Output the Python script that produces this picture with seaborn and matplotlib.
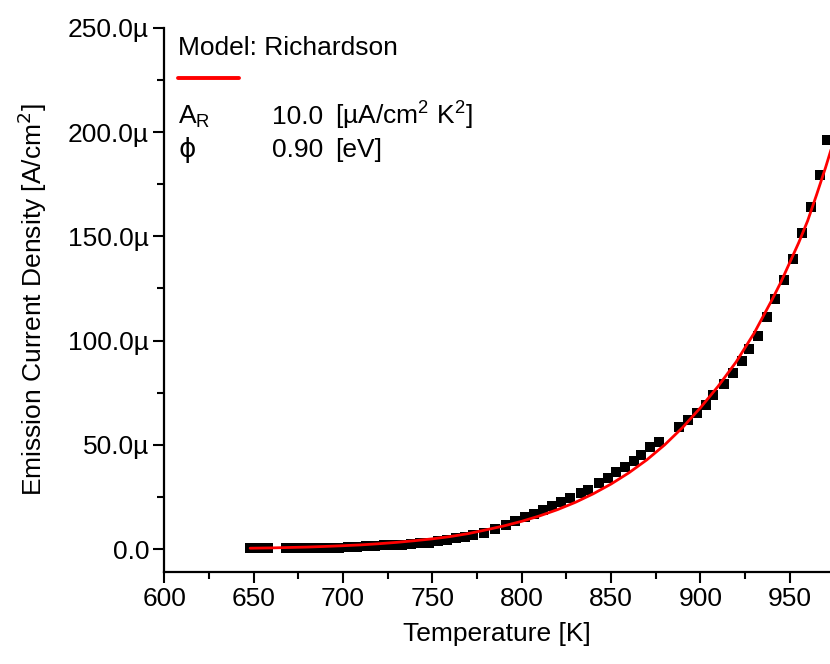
import matplotlib
matplotlib.use("Agg")
import matplotlib.pyplot as plt
import matplotlib.ticker as mticker
import seaborn as sns
import pandas as pd

# Measured data (Temperature [K], current density [µA/cm²])
temp_data = [648, 653, 658, 668, 673, 678, 683, 688, 693, 698, 703, 708, 713,
             718, 723, 728, 733, 738, 743, 748, 753, 758, 763, 768, 773, 779,
             785, 791, 796, 802, 807, 812, 817, 822, 827, 833, 837, 843, 848,
             853, 858, 863, 867, 872, 877, 888, 893, 898, 903, 907, 913, 918,
             923, 927, 932, 937, 942, 947, 952, 957, 962, 967, 971]
j_data = [0.3, 0.3, 0.3, 0.3, 0.3, 0.4, 0.4, 0.5, 0.6, 0.7, 0.9, 1.1, 1.3,
          1.5, 1.7, 1.9, 2.1, 2.4, 2.7, 3.1, 3.7, 4.4, 5.1, 5.9, 6.7, 7.6,
          9.4, 11.6, 13.6, 15.3, 17.0, 18.6, 20.8, 22.6, 24.4, 26.7, 28.5, 31.5, 34.0,
          37.0, 39.5, 42.0, 45.0, 49.0, 51.5, 58.7, 62.0, 65.2, 69.1, 74.0, 79.1, 84.4,
          90.2, 95.9, 102.2, 111.3, 119.9, 129.0, 139.1, 151.6, 164.0, 179.4, 196.2]

# Richardson model curve
temp_fit = [648, 660, 670, 680, 690, 700, 710, 720, 730, 740, 750, 760, 770,
            780, 790, 800, 810, 820, 830, 840, 850, 860, 870, 880, 890, 900,
            910, 920, 930, 940, 945, 950, 955, 960, 965, 970, 975]
j_fit = [0.4, 0.55, 0.75, 0.95, 1.25, 1.6, 2.0, 2.55, 3.2, 4.0, 4.9, 6.0, 7.4,
         9.2, 11.1, 13.3, 15.9, 18.9, 22.4, 26.5, 31.2, 36.6, 42.8, 50.0, 58.3, 67.8,
         78.2, 89.8, 103.5, 119.5, 128.0, 137.5, 147.0, 157.5, 170.0, 183.0, 197.0]

x_ticks = [600, 650, 700, 750, 800, 850, 900, 950]
y_ticks = [0, 50, 100, 150, 200, 250]

df_data = pd.DataFrame({"T": temp_data, "J": j_data})
df_fit = pd.DataFrame({"T": temp_fit, "J": j_fit})

sns.set_theme(style="ticks")
plt.rcParams["font.family"] = ["Liberation Sans", "DejaVu Sans"]
plt.rcParams["text.color"] = "black"
plt.rcParams["axes.labelcolor"] = "black"
FS = 19

fig = plt.figure(figsize=(8.3, 6.64), dpi=100)
ax = fig.add_axes([0.198, 0.1386, 0.802, 0.8193])

sns.scatterplot(data=df_data, x="T", y="J", marker="s", s=48, color="black",
                linewidth=0, ax=ax, zorder=2)
sns.lineplot(data=df_fit, x="T", y="J", color="#ff0000", linewidth=2.0, ax=ax,
             zorder=3)

ax.set_xlim(600, 972.5)
ax.set_ylim(-11, 250)
ax.set_xticks(x_ticks)
ax.set_yticks(y_ticks)
ax.xaxis.set_minor_locator(mticker.MultipleLocator(25))
ax.yaxis.set_minor_locator(mticker.MultipleLocator(25))
ax.yaxis.set_major_formatter(mticker.FuncFormatter(
    lambda v, p: "0.0" if abs(v) < 1e-9 else f"{v:.1f}µ"))

for s in ["top", "right"]:
    ax.spines[s].set_visible(False)
for s in ["left", "bottom"]:
    ax.spines[s].set_linewidth(1.6)
    ax.spines[s].set_color("black")

ax.tick_params(which="major", direction="out", length=8, width=1.5,
               labelsize=FS, colors="black", pad=3)
ax.tick_params(which="minor", direction="out", length=5, width=1.5,
               colors="black")

ax.set_xlabel("Temperature [K]", fontsize=FS, labelpad=8)
ax.set_ylabel("Emission Current Density [A/cm$^2$]", fontsize=FS, labelpad=14)


def fy(px):
    return 1 - px / 664


def fx(px):
    return px / 830


# Annotation block
fig.text(fx(178), fy(55), "Model: Richardson", fontsize=FS,
         va="baseline", ha="left")
fig.add_artist(plt.Line2D([fx(178), fx(239)], [fy(77.5), fy(77.5)],
                          color="#ff0000", linewidth=2.8,
                          transform=fig.transFigure))
fig.text(fx(178), fy(124), "A$_\\mathregular{R}$", fontsize=FS,
         va="baseline", ha="left")
fig.text(fx(272), fy(124), "10.0", fontsize=FS, va="baseline", ha="left")
fig.text(fx(335), fy(124), "[µA/cm$^\\mathregular{2}$ K$^\\mathregular{2}$]",
         fontsize=FS, va="baseline", ha="left")
fig.text(fx(178), fy(157), "ϕ", fontsize=FS, va="baseline", ha="left",
         family=["DejaVu Sans"])
fig.text(fx(272), fy(157), "0.90", fontsize=FS, va="baseline", ha="left")
fig.text(fx(335), fy(157), "[eV]", fontsize=FS, va="baseline", ha="left")

fig.savefig("out.png", dpi=100)
